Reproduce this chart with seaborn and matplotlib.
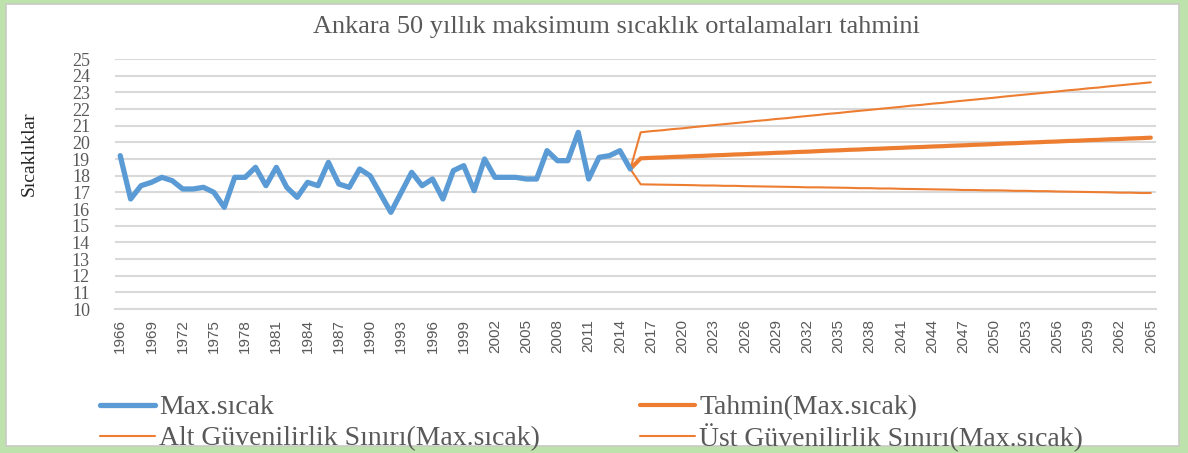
import matplotlib
matplotlib.use("Agg")
import matplotlib.pyplot as plt
import matplotlib.patches as mpatches
import seaborn as sns
import pandas as pd

# Observed annual mean maximum temperatures, Ankara
years_obs = list(range(1966, 2016))
max_sicak = [
    19.2, 16.6, 17.4, 17.6, 17.9, 17.7, 17.2, 17.2, 17.3, 17.0,
    16.1, 17.9, 17.9, 18.5, 17.4, 18.5, 17.3, 16.7, 17.6, 17.4,
    18.8, 17.5, 17.3, 18.4, 18.0, 16.9, 15.8, 17.0, 18.2, 17.4,
    17.8, 16.6, 18.3, 18.6, 17.1, 19.0, 17.9, 17.9, 17.9, 17.8,
    17.8, 19.5, 18.9, 18.9, 20.6, 17.8, 19.1, 19.2, 19.5, 18.4,
]

# Forecast (starts from the last observed value in 2015)
years_fc = list(range(2015, 2066))
tahmin = [
    18.40,
    19.04, 19.07, 19.09, 19.12, 19.14, 19.17, 19.19, 19.22, 19.24, 19.27,
    19.29, 19.32, 19.34, 19.37, 19.39, 19.42, 19.44, 19.47, 19.50, 19.52,
    19.55, 19.57, 19.60, 19.62, 19.65, 19.67, 19.70, 19.72, 19.75, 19.77,
    19.80, 19.82, 19.85, 19.87, 19.90, 19.93, 19.95, 19.98, 20.00, 20.03,
    20.05, 20.08, 20.10, 20.13, 20.15, 20.18, 20.20, 20.23, 20.25, 20.28,
]
alt_sinir = [
    18.40,
    17.48, 17.47, 17.46, 17.45, 17.44, 17.43, 17.41, 17.41, 17.39, 17.39,
    17.37, 17.36, 17.35, 17.34, 17.33, 17.32, 17.30, 17.30, 17.29, 17.28,
    17.27, 17.25, 17.25, 17.23, 17.23, 17.21, 17.20, 17.19, 17.18, 17.17,
    17.16, 17.14, 17.14, 17.12, 17.12, 17.11, 17.09, 17.09, 17.07, 17.07,
    17.05, 17.04, 17.03, 17.02, 17.01, 17.00, 16.98, 16.98, 16.96, 16.96,
]
ust_sinir = [
    18.40,
    20.60, 20.67, 20.72, 20.79, 20.84, 20.91, 20.97, 21.03, 21.09, 21.15,
    21.21, 21.28, 21.33, 21.40, 21.45, 21.52, 21.58, 21.64, 21.71, 21.76,
    21.83, 21.89, 21.95, 22.01, 22.07, 22.13, 22.20, 22.25, 22.32, 22.37,
    22.44, 22.50, 22.56, 22.62, 22.68, 22.75, 22.81, 22.87, 22.93, 22.99,
    23.05, 23.12, 23.17, 23.24, 23.29, 23.36, 23.42, 23.48, 23.54, 23.60,
]

title = "Ankara 50 yıllık maksimum sıcaklık ortalamaları tahmini"
ylabel = "Sıcaklıklar"
lbl_obs = "Max.sıcak"
lbl_fc = "Tahmin(Max.sıcak)"
lbl_lo = "Alt Güvenilirlik Sınırı(Max.sıcak)"
lbl_hi = "Üst Güvenilirlik Sınırı(Max.sıcak)"

df_obs = pd.DataFrame({"yil": years_obs, "deger": max_sicak})
df_fc = pd.DataFrame({"yil": years_fc, "tahmin": tahmin,
                      "alt": alt_sinir, "ust": ust_sinir})

sns.set_style("white")
plt.rcParams["font.family"] = ["Liberation Serif", "DejaVu Serif"]

BLUE = "#5B9BD5"
ORANGE = "#ED7D31"
GRAY = "#595959"
GRID = "#D9D9D9"
W, H = 1188, 453

fig = plt.figure(figsize=(W / 100, H / 100), dpi=100)
fig.patch.set_facecolor("#BEE2AB")
# white chart area inside the green frame
fig.patches.append(mpatches.Rectangle(
    (6 / W, 1 - 446 / H), (1179 - 6) / W, (446 - 4) / H,
    transform=fig.transFigure, facecolor="white", edgecolor="#C8CCC4",
    linewidth=1.2, zorder=-10))

ax = fig.add_axes([115 / W, 1 - 309 / H, 1041 / W, 250 / H])
ax.set_facecolor("none")
ax.set_zorder(2)

sns.lineplot(data=df_obs, x="yil", y="deger", ax=ax, color=BLUE,
             linewidth=3.8, label=lbl_obs, solid_capstyle="round",
             solid_joinstyle="round", zorder=4)
sns.lineplot(data=df_fc, x="yil", y="alt", ax=ax, color=ORANGE,
             linewidth=1.5, label=lbl_lo, zorder=3)
sns.lineplot(data=df_fc, x="yil", y="tahmin", ax=ax, color=ORANGE,
             linewidth=3.0, label=lbl_fc, solid_capstyle="round", zorder=3)
sns.lineplot(data=df_fc, x="yil", y="ust", ax=ax, color=ORANGE,
             linewidth=1.5, label=lbl_hi, zorder=3)

ax.set_xlim(1965.5, 2065.5)
ax.set_ylim(10, 25)
ax.set_yticks(range(10, 26))
ax.set_xticks(range(1966, 2066, 3))
ax.set_xticklabels([str(y) for y in range(1966, 2066, 3)], rotation=90,
                   fontfamily="Liberation Sans", fontsize=11, color=GRAY)
ax.set_yticklabels([str(v) for v in range(10, 26)],
                   fontfamily="Liberation Serif", fontsize=13, color=GRAY)
ax.tick_params(axis="x", length=0, pad=7)
ax.tick_params(axis="y", length=0, pad=18)
ax.grid(axis="y", color=GRID, linewidth=1.5)
ax.grid(axis="x", visible=False)
for side in ("top", "right", "left"):
    ax.spines[side].set_visible(False)
ax.spines["bottom"].set_color(GRID)
ax.spines["bottom"].set_linewidth(1.5)
ax.set_xlabel("")
ax.set_ylabel("")

fig.text(616 / W, 1 - 27 / H, title, ha="center", va="center",
         fontsize=19, color=GRAY, fontfamily="Liberation Serif")
fig.text(29 / W, 1 - 154 / H, ylabel, rotation=90, ha="center",
         va="center", fontsize=14, color="#262626",
         fontfamily="Liberation Serif")

handles, labels = ax.get_legend_handles_labels()
hmap = dict(zip(labels, handles))
ax.get_legend().remove()

LEG_FS = 20
fs_px = LEG_FS * 100 / 72
handle_px, pad_px = 55, 4
leg_kw = dict(loc="upper left", frameon=False, borderpad=0, borderaxespad=0,
              handlelength=handle_px / fs_px, handletextpad=pad_px / fs_px,
              prop={"family": "Liberation Serif", "size": LEG_FS},
              labelcolor=GRAY)
# the accented capital in the second column makes its row box taller,
# so that column gets a slightly smaller spacing to keep rows aligned
leg1 = fig.legend([hmap[lbl_obs], hmap[lbl_lo]], [lbl_obs, lbl_lo],
                  bbox_to_anchor=(100 / W, 1 - 395 / H),
                  labelspacing=0.2, **leg_kw)
leg2 = fig.legend([hmap[lbl_fc], hmap[lbl_hi]], [lbl_fc, lbl_hi],
                  bbox_to_anchor=(640 / W, 1 - 395 / H),
                  labelspacing=0.11, **leg_kw)

fig.savefig("out.png", dpi=100, facecolor=fig.get_facecolor())
